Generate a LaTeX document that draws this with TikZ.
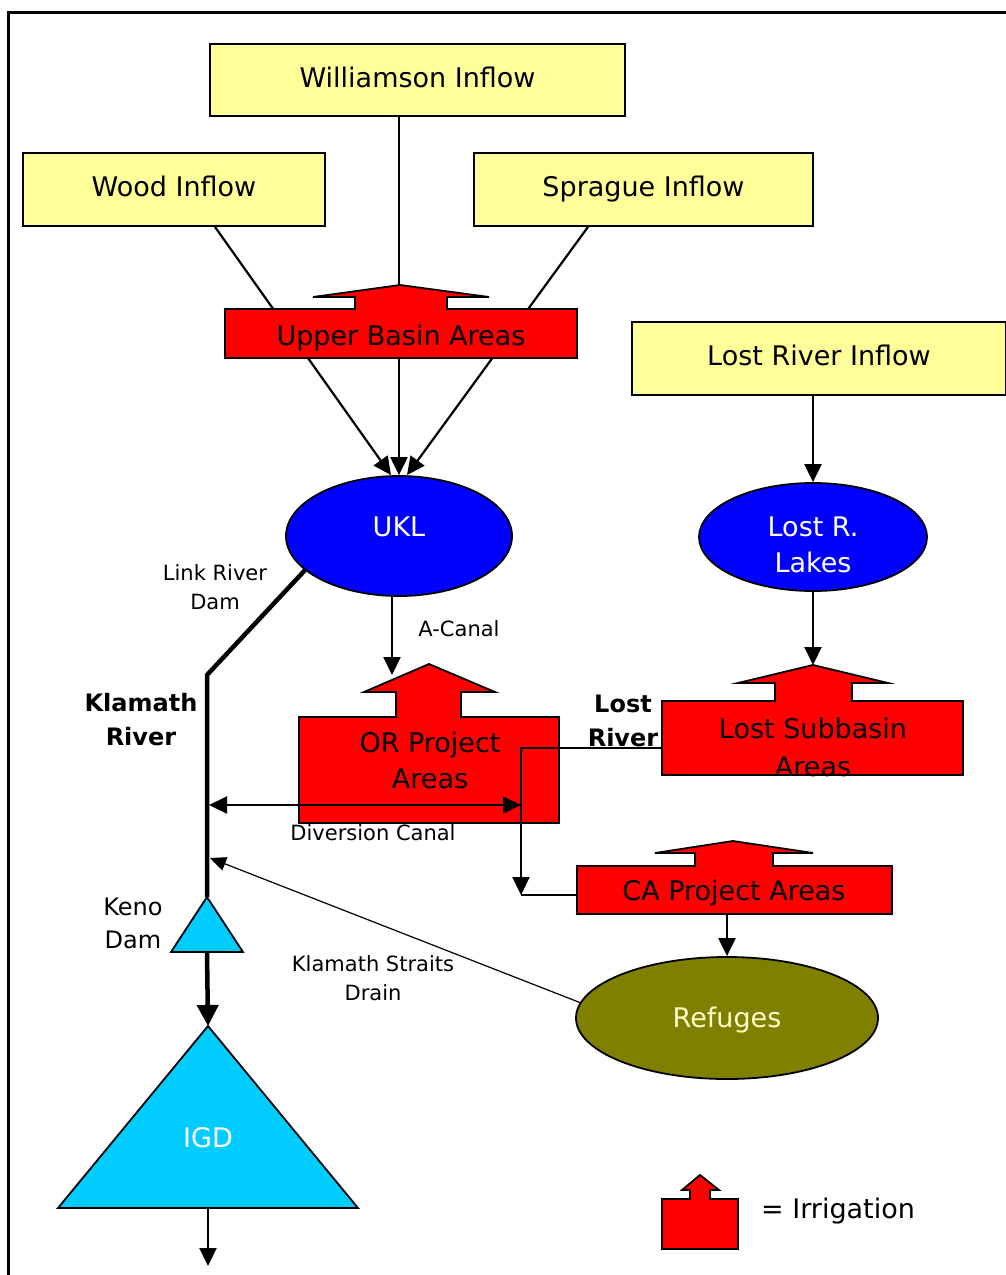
\documentclass[tikz,border=0pt]{standalone}
\usepackage{fontspec}
\setmainfont{DejaVu Sans}
\usetikzlibrary{arrows.meta,shapes.geometric}
\definecolor{inflowyellow}{HTML}{FFFF99}
\definecolor{irrred}{HTML}{FF0000}
\definecolor{lakeblue}{HTML}{0000FF}
\definecolor{damcyan}{HTML}{00CCFF}
\definecolor{refugeolive}{HTML}{808000}
\definecolor{refugetext}{HTML}{FFFFCC}
\newcommand\irrtab[8]{%
  \filldraw[irrfill] (#1,#3+1) -- (#1,#4) -- (#5,#4) -- (#7,#8) -- (#6,#4) -- (#2,#4) -- (#2,#3+1);}
\begin{document}
\begin{tikzpicture}[x=1pt,y=-1pt,
  big/.style={font=\fontsize{27}{36}\selectfont},
  txtw/.style={big, text=white, inner sep=0pt, align=center},
  txtk/.style={big, text=black, inner sep=0pt, align=center},
  txtref/.style={big, text=refugetext, inner sep=0pt},
  lab/.style={font=\fontsize{21}{29}\selectfont, align=center, inner sep=0pt},
  boldlab/.style={font=\fontsize{24}{34}\selectfont\bfseries, align=center, inner sep=0pt},
  kenolab/.style={font=\fontsize{24}{33}\selectfont, align=center, inner sep=0pt},
  inflow/.style={draw=black, line width=1.8pt, fill=inflowyellow, big, inner sep=0pt, text height=20.5pt, text depth=6pt},
  irrbody/.style={rectangle, draw=black, line width=1.8pt, fill=irrred, inner sep=0pt},
  irrfill/.style={fill=irrred, draw=black, line width=1.8pt, line join=miter},
  lake/.style={ellipse, draw=black, line width=1.8pt, fill=lakeblue, inner sep=0pt},
  dam/.style={fill=damcyan, draw=black, line width=1.8pt, line join=miter},
  tip/.style={-{Triangle[length=18pt,width=17pt]}},
  conn/.style={draw=black, line width=2.2pt, tip},
  plain/.style={draw=black, line width=2.2pt},
  river/.style={draw=black, line width=4.5pt},
  drain/.style={draw=black, line width=1.2pt, -{Triangle[length=16pt,width=14pt]}},
]
\useasboundingbox (0,0) rectangle (1005,1275);
\draw[line width=3pt] (8,12) rectangle (1020,1290);

% inflow boxes
\node[inflow, minimum width=415pt, minimum height=72pt] (will) at (417.5,80) {Williamson Inflow};
\node[inflow, minimum width=302pt, minimum height=73pt] (wood) at (174,189.5) {Wood Inflow};
\node[inflow, minimum width=339pt, minimum height=73pt] (spr) at (643.5,189.5) {Sprague Inflow};
\node[inflow, minimum width=374pt, minimum height=73pt] (lrin) at (819,358.5) {Lost River Inflow};

% lakes
\node[lake, minimum width=226pt, minimum height=120pt] (ukl) at (399,536) {};
\node[txtw, anchor=base] (ukltxt) at (399,536) {UKL};
\node[lake, minimum width=228pt, minimum height=108pt] (lrl) at (813,537) {};
\node[txtw] (lrltxt) at (813,545) {Lost R.\\Lakes};

% upper basin inflow lines (under the irrigation shape)
\draw[conn] ([xshift=41pt]wood.south) -- ([xshift=-8pt]ukl.north);
\draw[conn] ([xshift=-18.5pt]will.south) -- (ukl.north);
\draw[conn] ([xshift=-55.5pt]spr.south) -- ([xshift=8pt]ukl.north);

% Upper Basin Areas
\node[irrbody, minimum width=352pt, minimum height=49pt] (ub) at (401,333.5) {};
\irrtab{355}{447}{309}{297}{313}{489}{400}{285}
\node[txtk, anchor=base] (ubtxt) at (401,345) {Upper Basin Areas};

% OR Project Areas
\node[irrbody, minimum width=260pt, minimum height=106pt] (orp) at (429,770) {};
\irrtab{396}{461}{717}{692}{364}{495}{429}{664}
\node[txtk] (ortxt) at (430,760) {OR Project\\Areas};

% Lost Subbasin Areas
\node[irrbody, minimum width=301pt, minimum height=74pt] (ls) at (812.5,738) {};
\irrtab{775}{852}{701}{683}{738}{888}{813}{665}
\node[txtk, font=\fontsize{27}{38}\selectfont] (lstxt) at (813,747) {Lost Subbasin\\Areas};

% CA Project Areas
\node[irrbody, minimum width=315pt, minimum height=48pt] (ca) at (734.5,890) {};
\irrtab{695}{773}{866}{853}{655}{813}{733}{841}
\node[txtk, anchor=base] (catxt) at (734,900) {CA Project Areas};

% Refuges
\node[ellipse, draw=black, line width=1.8pt, fill=refugeolive, minimum width=302pt, minimum height=122pt, inner sep=0pt] (ref) at (727,1018) {};
\node[txtref, anchor=base] (reftxt) at (727,1027) {Refuges};

% dams
\coordinate (kenotop) at (207,897);
\coordinate (kenobot) at (207,952);
\filldraw[dam] (kenotop) -- (243,952) -- (171,952) -- cycle;
\coordinate (igdtop) at (208,1026);
\coordinate (igdbot) at (208,1208);
\filldraw[dam] (igdtop) -- (358,1208) -- (58,1208) -- cycle;
\node[txtw, anchor=base] (igdtxt) at (208,1147) {IGD};

% legend
\node[irrbody, minimum width=76pt, minimum height=50pt] (leg) at (700,1224) {};
\irrtab{690}{710}{1199}{1190}{682}{719}{700}{1175}
\node[txtk, anchor=base] (legtxt) at (838,1218) {= Irrigation};

% connectors
\coordinate (lstip) at (813,665);
\draw[conn] (lrin.south -| lrl.north) -- (lrl.north);
\draw[conn] (lrl.south) -- (lstip);

\coordinate (orslope) at (392,675);
\draw[conn] ([xshift=-7pt]ukl.south) -- (orslope);

\coordinate (bend) at (207,675);
\draw[river, line join=round] (ukl.200) -- (bend) -- (kenotop);
\draw[river, -{Triangle[length=21pt,width=21pt]}] (kenobot) -- (igdtop);
\coordinate (outflow) at (208,1266);
\draw[conn] (igdbot) -- (outflow);

\coordinate (lrcorner) at (521,895);
\draw[conn] ([yshift=-10pt]ls.west) -| (lrcorner);
\draw[plain] (lrcorner) -- (ca.west |- lrcorner);

\coordinate (divL) at (209,805);
\coordinate (divR) at (521,805);
\draw[plain, {Triangle[length=18pt,width=17pt]}-{Triangle[length=18pt,width=17pt]}] (divL) -- (divR);

\draw[conn] (ca.south -| ref.north) -- (ref.north);

\coordinate (drainend) at (210,858);
\draw[drain] (ref.174) -- (drainend);

% labels
\node[lab] (linklab) at (215,587) {Link River\\Dam};
\node[lab, anchor=base] (acanal) at (459,636) {A-Canal};
\node[boldlab] (klamlab) at (141,720) {Klamath\\River};
\node[boldlab] (lostlab) at (623,720.5) {Lost\\River};
\node[lab, anchor=base] (divlab) at (373,840) {Diversion Canal};
\node[lab] (ksdlab) at (373,978) {Klamath Straits\\Drain};
\node[kenolab] (kenolab) at (133,923) {Keno\\Dam};
\end{tikzpicture}
\end{document}
